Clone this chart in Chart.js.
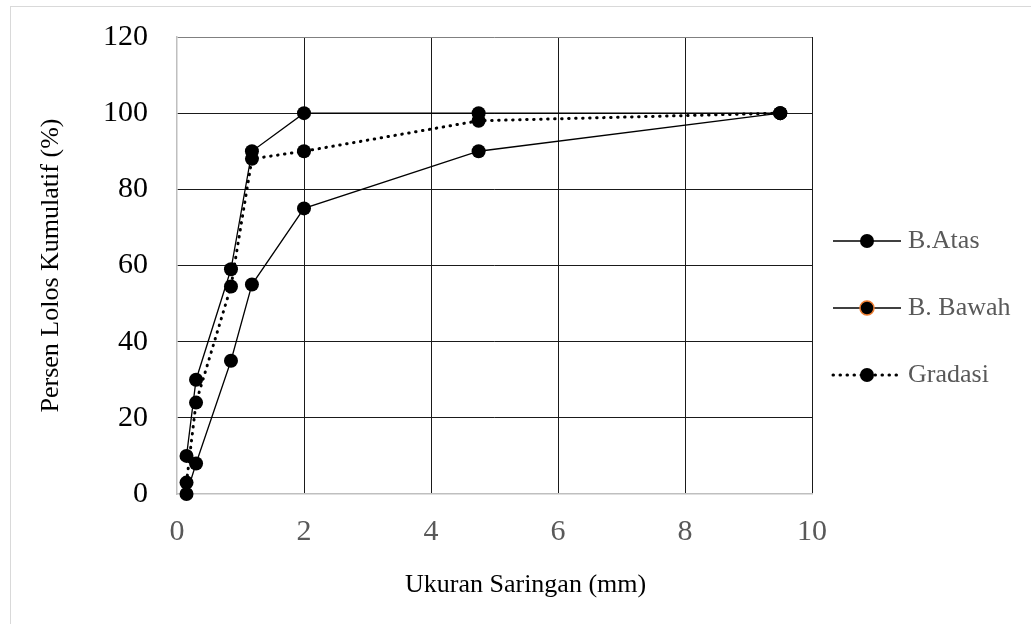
<!DOCTYPE html>
<html>
<head>
<meta charset="utf-8">
<script src="https://cdn.jsdelivr.net/npm/chart.js@4.4.0/dist/chart.umd.min.js"></script>
<style>
  html, body { margin: 0; padding: 0; background: #fff; }
</style>
</head>
<body>
<canvas id="grafik" width="1031" height="624"></canvas>
<script>
// data gradasi agregat
const ukuranSaringan = [0.15, 0.3, 0.85, 1.18, 2, 4.75, 9.5];
const batasAtas = [10, 30, 59, 90, 100, 100, 100];
const batasBawah = [0, 8, 35, 55, 75, 90, 100];
const gradasi = [3, 24, 54.5, 88, 90, 98, 100];
const xTicks = [0, 2, 4, 6, 8, 10];
const yTicks = [0, 20, 40, 60, 80, 100, 120];
const namaSeri = ['B.Atas', 'B. Bawah', 'Gradasi'];
const judulX = 'Ukuran Saringan (mm)';
const judulY = 'Persen Lolos Kumulatif (%)';

const serif = 'Liberation Serif';

function toXY(vals) {
    return ukuranSaringan.map((x, i) => ({x: x, y: vals[i]}));
}

function seri(label, vals, dotted, ring) {
    return {
        label: label,
        data: toXY(vals),
        showLine: true,
        borderColor: '#000',
        borderWidth: dotted ? 3 : 1.3,
        borderDash: dotted ? [0.5, 6.5] : [],
        borderCapStyle: dotted ? 'round' : 'butt',
        pointRadius: 7,
        pointHoverRadius: 7,
        pointBackgroundColor: '#000',
        pointBorderColor: '#000',
        pointBorderWidth: 0,
        legendRing: ring,
        clip: false
    };
}

// garis tepi luar
const bingkai = {
    id: 'bingkai',
    beforeDraw(chart) {
        const c = chart.ctx;
        c.save();
        c.strokeStyle = '#d9d9d9';
        c.lineWidth = 1;
        c.strokeRect(10.5, 6.5, 1100, 700);
        c.restore();
    }
};

// judul sumbu x (digeser sedikit ke kanan seperti di gambar)
const judulSumbuX = {
    id: 'judulSumbuX',
    afterDraw(chart) {
        const c = chart.ctx;
        c.save();
        c.fillStyle = '#000';
        c.font = '26px "' + serif + '"';
        c.textBaseline = 'alphabetic';
        c.textAlign = 'left';
        c.fillText(judulX, 405, 592);
        c.restore();
    }
};

// legenda buatan sendiri (garis - titik - garis)
const legenda = {
    id: 'legenda',
    afterDraw(chart) {
        const c = chart.ctx;
        c.save();
        chart.data.datasets.forEach((ds, i) => {
            const y = 241 + i * 67;
            c.strokeStyle = '#000';
            c.lineWidth = ds.borderWidth;
            c.lineCap = ds.borderCapStyle;
            c.setLineDash(ds.borderDash);
            c.beginPath();
            c.moveTo(833, y);
            c.lineTo(901, y);
            c.stroke();
            c.setLineDash([]);
            c.beginPath();
            c.arc(867, y, 7, 0, Math.PI * 2);
            c.fillStyle = '#000';
            c.fill();
            if (ds.legendRing) {
                c.lineWidth = 1.5;
                c.strokeStyle = ds.legendRing;
                c.stroke();
            }
            c.fillStyle = '#595959';
            c.font = '26px "' + serif + '"';
            c.textBaseline = 'middle';
            c.fillText(ds.label, 908, y);
        });
        c.restore();
    }
};

const ctx = document.getElementById('grafik').getContext('2d');
const chart = new Chart(ctx, {
    type: 'scatter',
    data: {
        datasets: [
            seri(namaSeri[0], batasAtas, false, null),
            seri(namaSeri[1], batasBawah, false, '#ED7D31'),
            seri(namaSeri[2], gradasi, true, null)
        ]
    },
    options: {
        responsive: false,
        animation: false,
        devicePixelRatio: 1,
        layout: {padding: {left: 10, top: 37, right: 219, bottom: 0}},
        plugins: {
            legend: {display: false},
            tooltip: {enabled: false}
        },
        scales: {
            x: {
                type: 'linear',
                min: 0,
                max: 10,
                afterBuildTicks: s => { s.ticks = xTicks.map(v => ({value: v})); },
                afterFit: s => { s.height = 130; },
                grid: {
                    drawTicks: false,
                    lineWidth: 1,
                    color: c => c.tick && c.tick.value === 0 ? 'rgba(0,0,0,0)' : '#1a1a1a'
                },
                border: {color: '#bfbfbf', width: 1.5},
                ticks: {
                    color: '#595959',
                    padding: 20,
                    font: {family: serif, size: 30}
                }
            },
            y: {
                type: 'linear',
                min: 0,
                max: 120,
                afterBuildTicks: s => { s.ticks = yTicks.map(v => ({value: v})); },
                afterFit: s => {
                    s.width = 167;
                    s.paddingTop = 0;
                    s.paddingBottom = 0;
                },
                grid: {
                    drawTicks: false,
                    lineWidth: 1,
                    color: c => {
                        if (!c.tick) return '#1a1a1a';
                        if (c.tick.value === 0) return 'rgba(0,0,0,0)';
                        if (c.tick.value === 120) return '#808080';
                        return '#1a1a1a';
                    }
                },
                border: {color: '#bfbfbf', width: 1.5},
                ticks: {
                    color: '#000',
                    padding: 29,
                    font: {family: serif, size: 30}
                },
                title: {
                    display: true,
                    text: judulY,
                    color: '#000',
                    font: {family: serif, size: 26},
                    padding: {top: 26, bottom: 0}
                }
            }
        }
    },
    plugins: [bingkai, judulSumbuX, legenda]
});
</script>
</body>
</html>
